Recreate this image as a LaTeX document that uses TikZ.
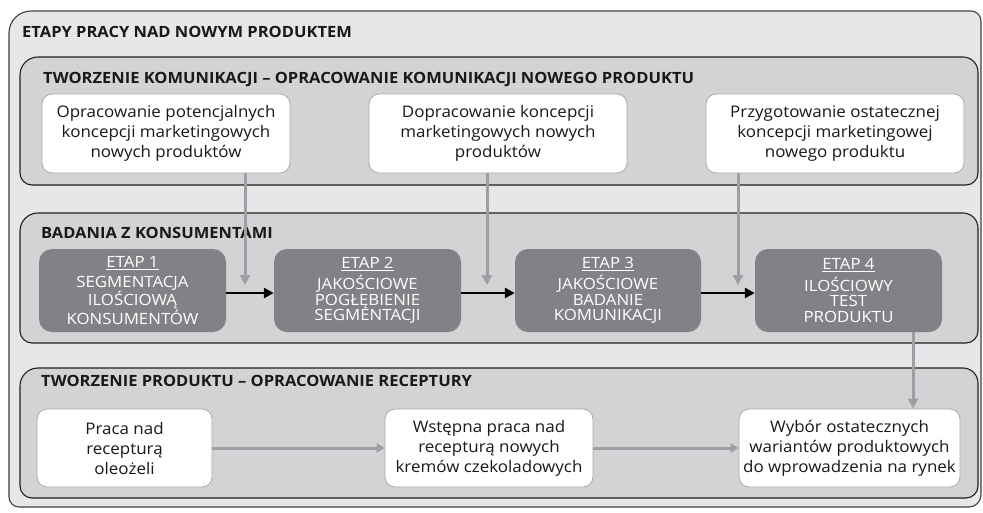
\documentclass[tikz,border=0pt]{standalone}
\usepackage{fontspec}
\setmainfont{Open Sans}
\newfontfamily\bodyfont[FakeStretch=1.06]{Open Sans}
\newfontfamily\headfont[FakeStretch=1.065]{Open Sans}
\newfontfamily\stagefont[FakeStretch=1.085]{Open Sans}
\usetikzlibrary{arrows.meta}
\definecolor{outerfill}{HTML}{E6E7E8}
\definecolor{secfill}{HTML}{D1D3D4}
\definecolor{darkfill}{HTML}{808285}
\definecolor{arrowgray}{HTML}{9D9FA2}
\definecolor{boxline}{HTML}{A7A9AC}
\definecolor{outerline}{HTML}{414042}
\definecolor{secline}{HTML}{231F20}
% #1 options, #2 x1, #3 y1, #4 x2, #5 y2, #6 tl, #7 tr, #8 br, #9 bl
\newcommand\rrbox[9]{\path[#1] ({#2},{#3+#6}) .. controls ({#2},{#3+0.448*#6}) and ({#2+0.448*#6},{#3}) .. ({#2+#6},{#3})
  -- ({#4-#7},{#3}) .. controls ({#4-0.448*#7},{#3}) and ({#4},{#3+0.448*#7}) .. ({#4},{#3+#7})
  -- ({#4},{#5-#8}) .. controls ({#4},{#5-0.448*#8}) and ({#4-0.448*#8},{#5}) .. ({#4-#8},{#5})
  -- ({#2+#9},{#5}) .. controls ({#2+0.448*#9},{#5}) and ({#2},{#5-0.448*#9}) .. ({#2},{#5-#9}) -- cycle;}
\begin{document}
\begin{tikzpicture}[x=1pt,y=-1pt,
  outerbox/.style={fill=outerfill, draw=outerline, line width=1.1pt},
  secbox/.style={fill=secfill, draw=secline, line width=1.1pt},
  titletext/.style={anchor=base west, inner sep=0pt, font=\headfont\bfseries\fontsize{15.5}{17}\selectfont, text=black!90},
  whitebox/.style={draw=boxline, line width=0.8pt, fill=white, rounded corners=10pt, align=center, inner sep=0pt, text=black!90, font=\bodyfont\fontsize{16}{20}\selectfont},
  stagebox/.style={fill=darkfill, rounded corners=13pt, align=center, inner sep=0pt, text=white, font=\stagefont\fontsize{15.5}{15.5}\selectfont},
  grayarrow/.style={draw=arrowgray, line width=3pt, -{Triangle[length=10pt,width=10pt]}},
  grayarrowh/.style={draw=arrowgray, line width=3pt, -{Triangle[length=8pt,width=9pt]}},
  blackarrow/.style={draw=black, line width=2.6pt, -{Triangle[length=10pt,width=10pt]}}
]
\useasboundingbox (0,0) rectangle (983,512);
\rrbox{outerbox}{9}{11}{981}{507}{22}{10}{12}{10}
\node[titletext] (t0) at (22,37) {ETAPY PRACY NAD NOWYM PRODUKTEM};

% section 1
\rrbox{secbox}{20}{57}{978}{185}{18}{15}{12}{12}
\node[titletext] (t1) at (43,83) {TWORZENIE KOMUNIKACJI – OPRACOWANIE KOMUNIKACJI NOWEGO PRODUKTU};
\node[whitebox, minimum width=248pt, minimum height=79pt] (w1) at (166,133.5) {Opracowanie potencjalnych\\koncepcji marketingowych\\nowych produktów};
\node[whitebox, minimum width=258pt, minimum height=79pt] (w2) at (498,133.5) {Dopracowanie koncepcji\\marketingowych nowych\\produktów};
\node[whitebox, minimum width=258pt, minimum height=79pt] (w3) at (835,133.5) {Przygotowanie ostatecznej\\koncepcji marketingowej\\nowego produktu};

% section 2
\rrbox{secbox}{20}{213}{978}{343}{18}{15}{12}{12}
\node[titletext] (t2) at (41,238) {BADANIA Z KONSUMENTAMI};
\node[stagebox, minimum width=187pt, minimum height=83pt] (e1) at (132.5,290.5) {\underline{ETAP 1}\\[4pt]SEGMENTACJA\\ILOŚCIOWĄ\\KONSUMENTÓW};
\node[stagebox, minimum width=187pt, minimum height=83pt] (e2) at (367.5,290.5) {\underline{ETAP 2}\\[4pt]JAKOŚCIOWE\\POGŁĘBIENIE\\SEGMENTACJI};
\node[stagebox, minimum width=186pt, minimum height=83pt] (e3) at (608,290.5) {\underline{ETAP 3}\\[4pt]JAKOŚCIOWE\\BADANIE\\KOMUNIKACJI};
\node[stagebox, minimum width=187pt, minimum height=83pt] (e4) at (848.5,290.5) {\underline{ETAP 4}\\[4pt]ILOŚCIOWY\\TEST\\PRODUKTU};

% section 3
\rrbox{secbox}{20}{368}{978}{498}{18}{15}{12}{12}
\node[titletext] (t3) at (41,386) {TWORZENIE PRODUKTU – OPRACOWANIE RECEPTURY};
\node[whitebox, minimum width=175pt, minimum height=78pt] (w4) at (124.5,448) {Praca nad\\recepturą\\oleożeli};
\node[whitebox, minimum width=208pt, minimum height=78pt] (w5) at (489,448) {Wstępna praca nad\\recepturą nowych\\kremów czekoladowych};
\node[whitebox, minimum width=221pt, minimum height=78pt] (w6) at (849.5,448) {Wybór ostatecznych\\wariantów produktowych\\do wprowadzenia na rynek};

% connectors
\coordinate (g1) at (245,285);
\coordinate (g2) at (487,285);
\coordinate (g3) at (738,285);
\coordinate (g4) at (913,400);
\draw[grayarrow] (w1.south -| g1) -- (g1);
\draw[grayarrow] (w2.south -| g2) -- (g2);
\draw[grayarrow] (w3.south -| g3) -- (g3);
\draw[grayarrow] (e4.south -| g4) -- (w6.north -| g4);
\draw[blackarrow] ([yshift=-2.5pt]e1.east) -- ([yshift=-2.5pt]e2.west);
\draw[blackarrow] ([yshift=-2.5pt]e2.east) -- ([yshift=-2.5pt]e3.west);
\draw[blackarrow] ([yshift=-2.5pt]e3.east) -- ([yshift=-2.5pt]e4.west);
\draw[grayarrowh] (w4.east) -- (w5.west);
\draw[grayarrowh] (w5.east) -- (w6.west);
\end{tikzpicture}
\end{document}
